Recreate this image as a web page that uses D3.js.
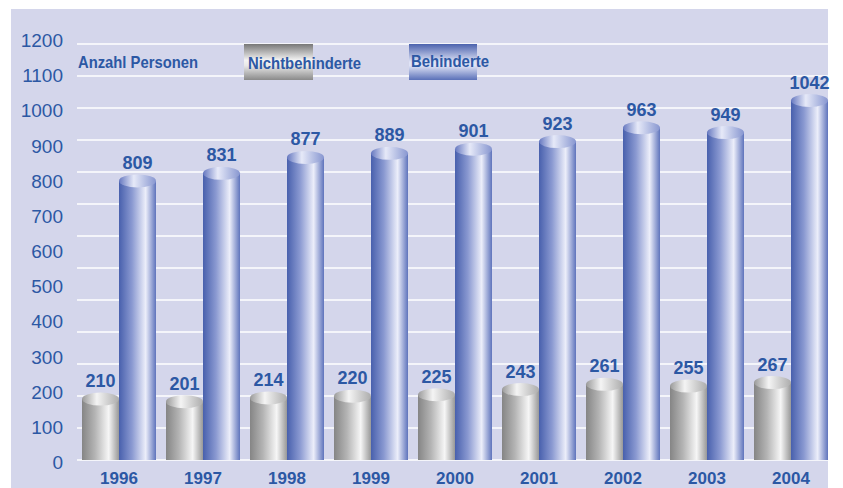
<!DOCTYPE html>
<html lang="de">
<head>
<meta charset="utf-8">
<title>Anzahl Personen 1996-2004</title>
<script src="https://cdn.jsdelivr.net/npm/d3@7"></script>
<style>
  body { margin: 0; background: #fff; }
  text { font-family: "Liberation Sans Narrow", "Liberation Sans", Arial, sans-serif; }
</style>
</head>
<body>
<script>
var years = ["1996","1997","1998","1999","2000","2001","2002","2003","2004"];
var nicht = [210, 201, 214, 220, 225, 243, 261, 255, 267];
var behind = [809, 831, 877, 889, 901, 923, 963, 949, 1042];
var yTicks = [0,100,200,300,400,500,600,700,800,900,1000,1100,1200];
var gridCount = 14;

var w = 843, h = 488;
var txt = "#2c58a4";

var svg = d3.select("body").append("svg").attr("width", w).attr("height", h);
var defs = svg.append("defs");

function grad(id, vertical, stops) {
  var g = defs.append("linearGradient").attr("id", id)
    .attr("x1", "0").attr("y1", "0")
    .attr("x2", vertical ? "0" : "1").attr("y2", vertical ? "1" : "0");
  stops.forEach(function(s){ g.append("stop").attr("offset", s[0]).attr("stop-color", s[1]); });
}
grad("greyBody", false, [[0,"#858585"],[0.35,"#b4b4b4"],[0.72,"#f6f6f6"],[1,"#989898"]]);
grad("blueBody", false, [[0,"#4860ad"],[0.35,"#8a99d1"],[0.72,"#eceefa"],[1,"#5f74bc"]]);
grad("greyTop", false, [[0,"#9a9a9a"],[0.4,"#f4f4f4"],[1,"#acacac"]]);
grad("blueTop", false, [[0,"#6678c0"],[0.4,"#e6e9f8"],[1,"#8796d0"]]);
grad("greySw", true, [[0,"#777"],[0.45,"#f4f4f4"],[0.6,"#e8e8e8"],[1,"#8a8a8a"]]);
grad("blueSw", true, [[0,"#4b62ad"],[0.5,"#dfe3f6"],[0.6,"#dfe3f6"],[1,"#5a70b8"]]);

// panel
svg.append("rect").attr("x", 11).attr("y", 9).attr("width", 817).attr("height", h - 9)
  .attr("fill", "#d4d6eb");

// axis labels, bars for each series and the grid lines do not share one scale in the original
var yLab = d3.scaleLinear().domain([0, 1200]).range([462, 40]);
var yBlue = d3.scaleLinear().domain([0, 1200]).range([460, 46]);
var yGrey = d3.scaleLinear().domain([0, 1200]).range([460, 112]);
var yGrid = d3.scaleLinear().domain([0, gridCount - 1]).range([460, 44]);

svg.append("g").selectAll("line").data(d3.range(gridCount)).enter().append("line")
  .attr("x1", 77).attr("x2", 828)
  .attr("y1", function(d){ return yGrid(d); }).attr("y2", function(d){ return yGrid(d); })
  .attr("stroke", "#fff").attr("stroke-width", 1.5);

svg.append("g").selectAll("text").data(yTicks).enter().append("text")
  .attr("x", 63).attr("y", function(d){ return yLab(d) + 7; })
  .attr("text-anchor", "end")
  .attr("font-size", 19).attr("fill", txt)
  .text(function(d){ return d; });

var x = d3.scalePoint().domain(years).range([82, 754]);
var bw = 37, ry = 6.5;

function cyl(vals, sc, off, body, top) {
  var g = svg.append("g").selectAll("g").data(vals).enter().append("g");
  g.append("path").attr("fill", "url(#" + body + ")")
    .attr("d", function(d, i){
      var x0 = x(years[i]) + off, yt = sc(d), yb = sc(0);
      return "M" + x0 + "," + yt + "L" + x0 + "," + yb +
        "L" + (x0 + bw) + "," + yb + "L" + (x0 + bw) + "," + yt + "Z";
    });
  g.append("ellipse").attr("fill", "url(#" + top + ")")
    .attr("cx", function(d, i){ return x(years[i]) + off + bw/2; })
    .attr("cy", function(d){ return sc(d); })
    .attr("rx", bw/2).attr("ry", ry);
  g.append("text")
    .attr("x", function(d, i){ return x(years[i]) + off + bw/2; })
    .attr("y", function(d){ return sc(d) - 12; })
    .attr("text-anchor", "middle").attr("font-weight", "bold")
    .attr("font-size", 18).attr("fill", txt)
    .text(function(d){ return d; });
}
cyl(nicht, yGrey, 0, "greyBody", "greyTop");
cyl(behind, yBlue, bw, "blueBody", "blueTop");

svg.append("g").selectAll("text").data(years).enter().append("text")
  .attr("x", function(d){ return x(d) + bw; })
  .attr("y", 484)
  .attr("text-anchor", "middle").attr("font-weight", "bold")
  .attr("font-size", 17).attr("fill", txt)
  .text(function(d){ return d; });

// legend
svg.append("text").attr("x", 78).attr("y", 68).attr("font-weight", "bold")
  .attr("font-size", 17).attr("fill", txt)
  .attr("textLength", 120).attr("lengthAdjust", "spacingAndGlyphs").text("Anzahl Personen");
svg.append("rect").attr("x", 244).attr("y", 44).attr("width", 69).attr("height", 36)
  .attr("fill", "url(#greySw)");
svg.append("text").attr("x", 248).attr("y", 69).attr("font-weight", "bold")
  .attr("font-size", 17).attr("fill", txt)
  .attr("textLength", 113).attr("lengthAdjust", "spacingAndGlyphs").text("Nichtbehinderte");
svg.append("rect").attr("x", 409).attr("y", 44).attr("width", 68).attr("height", 36)
  .attr("fill", "url(#blueSw)");
svg.append("text").attr("x", 411).attr("y", 67).attr("font-weight", "bold")
  .attr("font-size", 17).attr("fill", txt)
  .attr("textLength", 78).attr("lengthAdjust", "spacingAndGlyphs").text("Behinderte");
</script>
</body>
</html>
